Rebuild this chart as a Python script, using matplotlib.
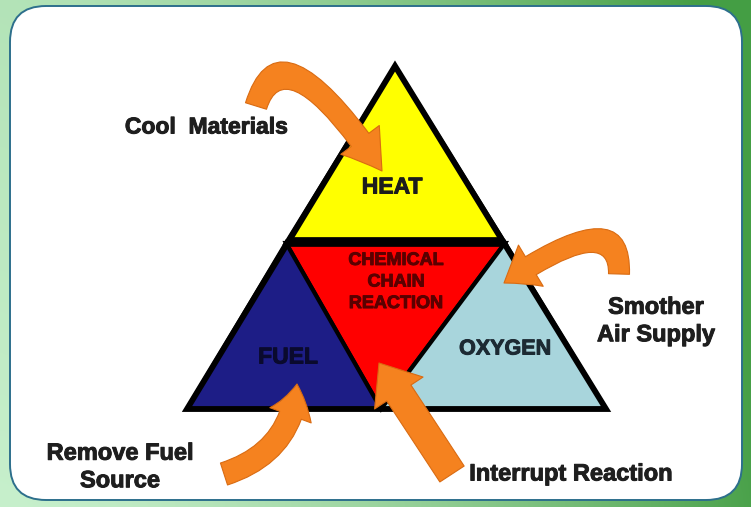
import numpy as np
import matplotlib.pyplot as plt
import matplotlib.patheffects as pe
from matplotlib.patches import Polygon, FancyArrowPatch, FancyBboxPatch
from matplotlib.path import Path

# Textos del diagrama
partes = ['HEAT', 'CHEMICAL\nCHAIN\nREACTION', 'FUEL', 'OXYGEN']
colores_partes = ['#ffff00', '#ff0000', '#1d1d86', '#a8d5dc']
colores_texto = ['#1c1c1c', '#5a0000', '#0a0a2e', '#1c2a33']
acciones = ['Cool  Materials', 'Smother\nAir Supply', 'Remove Fuel\nSource', 'Interrupt Reaction']

W, H = 751, 507
fig = plt.figure(figsize=(W / 100, H / 100), dpi=100)
ax = fig.add_axes([0, 0, 1, 1])

# Fondo verde degradado
gx, gy = np.meshgrid(np.linspace(0, 1, 300), np.linspace(0, 1, 200))
c1 = np.array([0.78, 0.94, 0.80])
c2 = np.array([0.27, 0.62, 0.27])
t = np.clip(gx ** 1.5 * 0.95 + 0.15 * (1 - gy), 0, 1)
fondo = c1 + (c2 - c1) * t[..., None]
ax.imshow(fondo, extent=[0, W, H, 0], aspect='auto', zorder=0)

ax.set_xlim(0, W)
ax.set_ylim(H, 0)
ax.axis('off')

# Panel blanco redondeado
panel = FancyBboxPatch((10, 6), 732, 494, boxstyle='round,pad=0,rounding_size=36',
                       fc='white', ec='#2d6f8c', lw=1.4, zorder=1)
ax.add_patch(panel)

# Triangulo principal
A, B, C = (395, 66), (187, 409), (606, 409)
L, R, M = (286, 243), (505, 243), (381, 409)
regiones = [[A, L, R], [L, R, M], [B, L, M], [M, R, C]]
for verts, col in zip(regiones, colores_partes):
    ax.add_patch(Polygon(verts, closed=True, fc=col, ec='black', lw=3,
                         joinstyle='miter', zorder=2))
ax.add_patch(Polygon([A, B, C], closed=True, fill=False, ec='black', lw=4.2,
                     joinstyle='miter', zorder=3))
ax.plot([L[0] + 3, R[0] - 3], [242, 242], color='black', lw=7, solid_capstyle='butt', zorder=3)

# Etiquetas de las partes
fuente = 'Liberation Sans'
pos_partes = [(392, 187), (396, 282), (288, 357), (505, 349)]
tam_partes = [16.5, 13, 16.5, 15.5]
for txt, (x, y), col, fs in zip(partes, pos_partes, colores_texto, tam_partes):
    ax.text(x, y, txt, ha='center', va='center', fontsize=fs, fontweight='bold',
            color=col, family=fuente, linespacing=1.35, zorder=6,
            path_effects=[pe.withStroke(linewidth=0.7, foreground=col)])


def flecha(p0, p1, p2, cola, ancho, largo):
    camino = Path([p0, p1, p2], [Path.MOVETO, Path.CURVE3, Path.CURVE3])
    estilo = 'simple,tail_width=%.1f,head_width=%.1f,head_length=%.1f' % (
        cola / 1.389, ancho / 1.389, largo / 1.389)
    ax.add_patch(FancyArrowPatch(path=camino, arrowstyle=estilo, mutation_scale=1,
                                 fc='#f5821f', ec='#d96b12', lw=0.8, zorder=5))


# Flechas naranjas
flecha((256, 106), (282, 22), (382, 171), 22, 48, 38)
flecha((619, 274), (621, 203), (504, 283), 21, 48, 32)
flecha((224, 474), (292, 452), (297, 384), 23, 44, 32)
flecha((452, 474), (416, 419), (379, 363), 29, 58, 36)

# Etiquetas de las acciones
col_acc = '#1e1e1e'
trazo = [pe.withStroke(linewidth=0.7, foreground=col_acc)]
ax.text(206, 127, acciones[0], ha='center', va='center', fontsize=16.5,
        fontweight='bold', color=col_acc, family=fuente, zorder=6, path_effects=trazo)
ax.text(656, 321, acciones[1], ha='center', va='center', fontsize=17,
        fontweight='bold', color=col_acc, family=fuente, linespacing=1.25, zorder=6,
        path_effects=trazo)
ax.text(120, 467, acciones[2], ha='center', va='center', fontsize=17,
        fontweight='bold', color=col_acc, family=fuente, linespacing=1.25, zorder=6,
        path_effects=trazo)
ax.text(571, 474, acciones[3], ha='center', va='center', fontsize=17,
        fontweight='bold', color=col_acc, family=fuente, zorder=6, path_effects=trazo)

fig.savefig('out.png', dpi=100)
